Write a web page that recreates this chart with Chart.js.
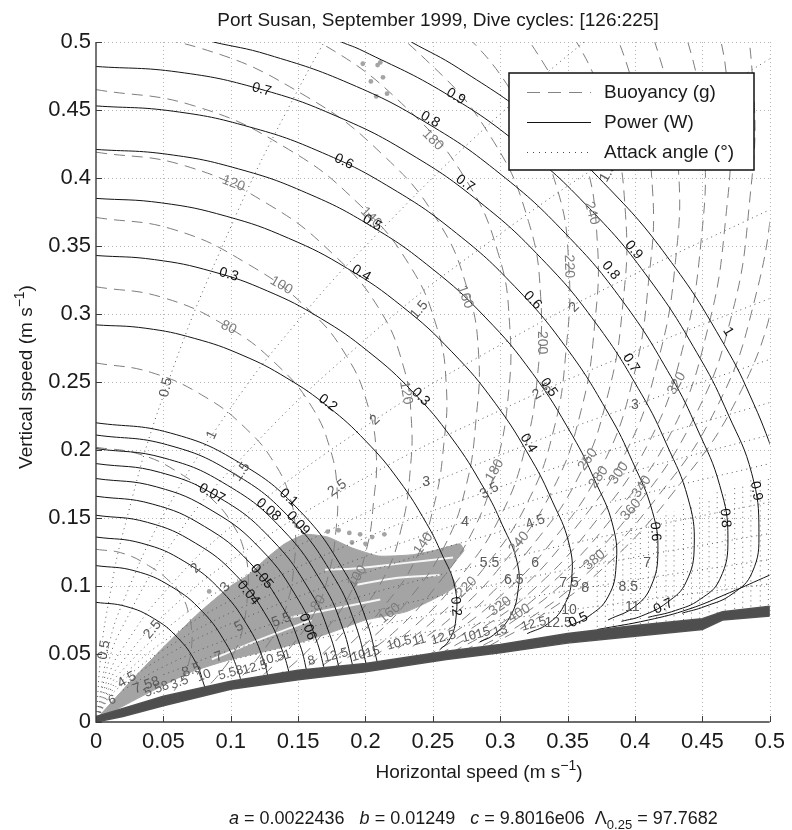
<!DOCTYPE html>
<html><head><meta charset="utf-8">
<script src="https://cdn.jsdelivr.net/npm/chart.js@4/dist/chart.umd.min.js"></script>
<style>html,body{margin:0;padding:0;background:#fff}canvas{display:block}</style>
</head><body>
<canvas id="c" width="792" height="830" style="width:792px;height:830px"></canvas>
<script>
// ---------------- axis ticks ----------------
const X_TICKS = [0,0.05,0.1,0.15,0.2,0.25,0.3,0.35,0.4,0.45,0.5];
const Y_TICKS = [0,0.05,0.1,0.15,0.2,0.25,0.3,0.35,0.4,0.45,0.5];

// ---------------- Power contours (W), solid ----------------
const POW_001 = [[0,0.088],[0.0221,0.085],[0.0427,0.0762],[0.0604,0.0622],[0.0739,0.044],[0.081,0.025]];
const POW_002 = [[0,0.115],[0.0289,0.1111],[0.0558,0.0996],[0.0789,0.0813],[0.0966,0.0575],[0.1048,0.0393],[0.108,0.029]];
const POW_003 = [[0,0.136],[0.0341,0.1314],[0.066,0.1178],[0.0933,0.0962],[0.1142,0.068],[0.124,0.0465],[0.128,0.032]];
const POW_004 = [[0,0.152],[0.0382,0.1468],[0.0737,0.1316],[0.1043,0.1075],[0.1277,0.076],[0.1385,0.052],[0.144,0.034]];
const POW_005 = [[0,0.166],[0.0417,0.1603],[0.0805,0.1438],[0.1139,0.1174],[0.1394,0.083],[0.1513,0.0568],[0.157,0.035]];
const POW_006 = [[0,0.179],[0.0449,0.1729],[0.0868,0.155],[0.1228,0.1266],[0.1504,0.0895],[0.1632,0.0612],[0.17,0.037]];
const POW_007 = [[0,0.19],[0.0477,0.1835],[0.0922,0.1645],[0.1303,0.1343],[0.1596,0.095],[0.1732,0.065],[0.181,0.038]];
const POW_008 = [[0,0.201],[0.0505,0.1941],[0.0975,0.1741],[0.1379,0.1421],[0.1688,0.1005],[0.1832,0.0687],[0.191,0.0395]];
const POW_009 = [[0,0.211],[0.053,0.2038],[0.1023,0.1827],[0.1447,0.1492],[0.1772,0.1055],[0.1923,0.0722],[0.201,0.041]];
const POW_010 = [[0,0.22],[0.0552,0.2125],[0.1067,0.1905],[0.1509,0.1556],[0.1848,0.11],[0.2005,0.0752],[0.209,0.043]];
const POW_020 = [[0,0.292],[0.037,0.2895],[0.0733,0.282],[0.1084,0.2698],[0.1416,0.2529],[0.1724,0.2317],[0.2003,0.2065],[0.2247,0.1778],[0.2453,0.146],[0.2567,0.1234],[0.2662,0.0999],[0.267,0.075],[0.262,0.06],[0.255,0.053]];
const POW_030 = [[0,0.343],[0.0434,0.34],[0.0861,0.3313],[0.1273,0.3169],[0.1664,0.297],[0.2025,0.2721],[0.2353,0.2425],[0.264,0.2088],[0.2881,0.1715],[0.3015,0.145],[0.3126,0.1173],[0.313,0.095],[0.307,0.077],[0.295,0.064],[0.285,0.059]];
const POW_040 = [[0,0.385],[0.0487,0.3817],[0.0966,0.3719],[0.1429,0.3557],[0.1867,0.3334],[0.2273,0.3055],[0.2641,0.2722],[0.2963,0.2344],[0.3234,0.1925],[0.3385,0.1627],[0.3509,0.1317],[0.353,0.105],[0.347,0.085],[0.335,0.072],[0.32,0.065]];
const POW_050 = [[0,0.421],[0.0533,0.4174],[0.1057,0.4067],[0.1563,0.389],[0.2042,0.3646],[0.2486,0.334],[0.2888,0.2977],[0.324,0.2563],[0.3536,0.2105],[0.3701,0.1779],[0.3837,0.144],[0.386,0.115],[0.38,0.092],[0.366,0.078],[0.35,0.07]];
const POW_060 = [[0,0.453],[0.0573,0.4491],[0.1137,0.4376],[0.1682,0.4185],[0.2197,0.3923],[0.2675,0.3594],[0.3107,0.3203],[0.3486,0.2758],[0.3805,0.2265],[0.3982,0.1914],[0.4129,0.1549],[0.417,0.125],[0.412,0.1],[0.4,0.085],[0.38,0.075]];
const POW_070 = [[0,0.482],[0.061,0.4779],[0.121,0.4656],[0.1789,0.4453],[0.2338,0.4174],[0.2846,0.3824],[0.3306,0.3408],[0.3709,0.2934],[0.4049,0.241],[0.4237,0.2037],[0.4393,0.1648],[0.444,0.13],[0.438,0.103],[0.424,0.088],[0.405,0.078],[0.39,0.074]];
const POW_080 = [[0.087,0.5],[0.1275,0.4907],[0.1886,0.4693],[0.2464,0.4399],[0.30,0.403],[0.3484,0.3592],[0.391,0.3093],[0.4267,0.254],[0.4466,0.2147],[0.463,0.1737],[0.469,0.135],[0.463,0.105],[0.448,0.09],[0.43,0.082],[0.41,0.077]];
const POW_090 = [[0.182,0.5],[0.1982,0.4934],[0.259,0.4624],[0.3153,0.4237],[0.3663,0.3776],[0.411,0.3251],[0.4486,0.267],[0.4694,0.2257],[0.4867,0.1826],[0.492,0.14],[0.487,0.11],[0.472,0.094],[0.452,0.085],[0.435,0.08]];
const POW_100 = [[0.234,0.5],[0.2692,0.4806],[0.3277,0.4403],[0.3807,0.3924],[0.4271,0.3379],[0.4662,0.2775],[0.4879,0.2345],[0.5059,0.1898]];
const POW_100_LOW = [[0.5,0.108],[0.47,0.095],[0.44,0.083],[0.41,0.075],[0.372,0.068]];

// ---------------- Buoyancy contours (g), dashed ----------------
const BUO_020 = [[0,0.127],[0.02,0.124],[0.039,0.115],[0.054,0.104],[0.064,0.092],[0.069,0.079],[0.071,0.067],[0.071,0.056],[0.069,0.044],[0.065,0.033],[0.058,0.023]];
const BUO_040 = [[0,0.202],[0.032,0.197],[0.062,0.183],[0.085,0.165],[0.101,0.146],[0.11,0.126],[0.113,0.107],[0.112,0.088],[0.109,0.069],[0.103,0.052],[0.092,0.036],[0.081,0.024]];
const BUO_060 = [[0,0.264],[0.041,0.257],[0.081,0.239],[0.111,0.216],[0.132,0.191],[0.144,0.165],[0.148,0.14],[0.147,0.116],[0.143,0.091],[0.134,0.068],[0.12,0.047],[0.106,0.031]];
const BUO_080 = [[0,0.32],[0.05,0.312],[0.0985,0.29],[0.135,0.262],[0.16,0.232],[0.174,0.2],[0.179,0.17],[0.178,0.14],[0.173,0.11],[0.163,0.082],[0.146,0.057],[0.128,0.038],[0.12,0.032]];
const BUO_100 = [[0,0.371],[0.058,0.362],[0.114,0.336],[0.157,0.304],[0.186,0.269],[0.202,0.232],[0.208,0.197],[0.206,0.162],[0.201,0.128],[0.189,0.095],[0.169,0.066],[0.148,0.044],[0.13,0.031]];
const BUO_120 = [[0,0.419],[0.066,0.409],[0.129,0.38],[0.177,0.343],[0.21,0.304],[0.228,0.262],[0.234,0.223],[0.233,0.183],[0.227,0.144],[0.214,0.107],[0.191,0.075],[0.168,0.05],[0.147,0.034]];
const BUO_140 = [[0,0.465],[0.073,0.453],[0.143,0.421],[0.196,0.38],[0.232,0.337],[0.253,0.29],[0.26,0.247],[0.258,0.203],[0.251,0.16],[0.237,0.119],[0.212,0.083],[0.186,0.055],[0.163,0.038]];
const BUO_160 = [[0,0.508],[0.079,0.495],[0.156,0.46],[0.214,0.416],[0.254,0.368],[0.276,0.317],[0.284,0.27],[0.282,0.222],[0.275,0.175],[0.259,0.13],[0.232,0.09],[0.203,0.06],[0.178,0.041]];
const BUO_180 = [[0.086,0.536],[0.169,0.498],[0.232,0.45],[0.275,0.398],[0.299,0.343],[0.307,0.292],[0.306,0.24],[0.297,0.189],[0.28,0.141],[0.251,0.098],[0.22,0.065],[0.192,0.045]];
const BUO_200 = [[0.092,0.575],[0.181,0.534],[0.249,0.483],[0.295,0.427],[0.321,0.368],[0.33,0.313],[0.328,0.258],[0.319,0.203],[0.3,0.151],[0.269,0.105],[0.236,0.07],[0.206,0.048]];
const BUO_220 = [[0.193,0.569],[0.265,0.514],[0.314,0.455],[0.342,0.393],[0.351,0.334],[0.349,0.275],[0.34,0.216],[0.32,0.161],[0.287,0.112],[0.251,0.075],[0.22,0.051]];
const BUO_240 = [[0.205,0.603],[0.281,0.545],[0.333,0.483],[0.362,0.416],[0.372,0.354],[0.37,0.291],[0.36,0.229],[0.339,0.171],[0.304,0.119],[0.266,0.079],[0.233,0.054]];
const BUO_260 = [[0.296,0.575],[0.351,0.509],[0.382,0.439],[0.393,0.373],[0.391,0.307],[0.38,0.241],[0.358,0.18],[0.32,0.125],[0.281,0.083],[0.246,0.057]];
const BUO_280 = [[0.311,0.604],[0.369,0.535],[0.401,0.461],[0.413,0.392],[0.41,0.323],[0.399,0.254],[0.376,0.189],[0.337,0.131],[0.295,0.088],[0.258,0.06]];
const BUO_300 = [[0.326,0.632],[0.386,0.56],[0.42,0.483],[0.432,0.41],[0.43,0.338],[0.417,0.265],[0.393,0.198],[0.352,0.138],[0.309,0.092],[0.27,0.063],[0.241,0.046]];
const BUO_320 = [[0.403,0.585],[0.438,0.504],[0.451,0.428],[0.449,0.353],[0.436,0.277],[0.411,0.207],[0.368,0.144],[0.323,0.096],[0.282,0.066],[0.252,0.048]];
const BUO_340 = [[0.42,0.609],[0.457,0.525],[0.47,0.446],[0.467,0.367],[0.454,0.289],[0.428,0.215],[0.383,0.15],[0.336,0.1],[0.294,0.068],[0.262,0.05]];
const BUO_360 = [[0.436,0.632],[0.474,0.545],[0.488,0.463],[0.485,0.382],[0.472,0.3],[0.444,0.224],[0.398,0.155],[0.349,0.104],[0.305,0.071],[0.273,0.052]];
const BUO_380 = [[0.492,0.565],[0.506,0.48],[0.503,0.396],[0.489,0.311],[0.461,0.232],[0.413,0.161],[0.362,0.107],[0.317,0.073],[0.283,0.054]];
const BUO_400 = [[0.509,0.585],[0.523,0.497],[0.52,0.409],[0.506,0.322],[0.477,0.24],[0.427,0.167],[0.374,0.111],[0.327,0.076],[0.292,0.056]];

// ---------------- Attack angle contours (deg), dotted ----------------
const ATT_05 = [[0,0],[0.004,0.053],[0.01,0.0915],[0.02,0.139],[0.05,0.24],[0.1,0.364],[0.15,0.465],[0.2,0.552]];
const ATT_10 = [[0,0],[0.01,0.058],[0.02,0.088],[0.05,0.152],[0.1,0.231],[0.15,0.295],[0.2,0.35],[0.3,0.447],[0.4,0.531]];
const ATT_15 = [[0,0],[0.01,0.0466],[0.02,0.0706],[0.05,0.1225],[0.1,0.1856],[0.2,0.2813],[0.3,0.3589],[0.4,0.4265],[0.5,0.4876]];
const ATT_20 = [[0,0],[0.01,0.036],[0.02,0.0546],[0.05,0.0946],[0.1,0.1434],[0.2,0.2174],[0.3,0.2773],[0.4,0.3295],[0.5,0.3767]];
const ATT_25 = [[0,0],[0.01,0.0298],[0.02,0.0451],[0.05,0.0782],[0.1,0.1186],[0.2,0.1797],[0.3,0.2292],[0.4,0.2724],[0.5,0.3114]];
const ATT_30 = [[0,0],[0.01,0.0255],[0.02,0.0386],[0.05,0.0669],[0.1,0.1015],[0.2,0.1538],[0.3,0.1962],[0.4,0.2331],[0.5,0.2666]];
const ATT_35 = [[0,0],[0.01,0.0225],[0.02,0.034],[0.05,0.059],[0.1,0.0894],[0.2,0.1355],[0.3,0.1729],[0.4,0.2054],[0.5,0.2349]];
const ATT_40 = [[0,0],[0.01,0.0202],[0.02,0.0306],[0.05,0.053],[0.1,0.0804],[0.2,0.1218],[0.3,0.1554],[0.4,0.1847],[0.5,0.2111]];
const ATT_45 = [[0,0],[0.01,0.0182],[0.02,0.0275],[0.05,0.0477],[0.1,0.0723],[0.2,0.1096],[0.3,0.1399],[0.4,0.1662],[0.5,0.19]];
const ATT_55 = [[0.02,0.0234],[0.05,0.0406],[0.1,0.0615],[0.2,0.0933],[0.3,0.119],[0.4,0.1414],[0.5,0.1617]];
const ATT_65 = [[0.05,0.0348],[0.1,0.0528],[0.2,0.08],[0.3,0.102],[0.4,0.1212],[0.5,0.1386]];
const ATT_80 = [[0.1,0.0455],[0.2,0.0689],[0.3,0.0879],[0.4,0.1045],[0.5,0.1194]];
const ATT_100 = [[0.2,0.0586],[0.3,0.0748],[0.4,0.0889],[0.5,0.1016]];
// near-vertical high-angle contour pile-up (x position, bottom, top)
const STEEP_DOT_X = [0.372,0.378,0.384,0.391,0.397,0.404,0.41,0.416,0.423,0.429,0.436,0.442,0.448,0.455,0.461,0.467,0.474,0.48,0.486,0.493,0.499];
const STEEP_DOT_BOTTOM = [0.07,0.07,0.071,0.071,0.072,0.072,0.073,0.073,0.074,0.074,0.075,0.076,0.076,0.077,0.08,0.082,0.083,0.084,0.085,0.085,0.086];
const STEEP_DOT_TOP = [0.13,0.135,0.14,0.14,0.145,0.145,0.15,0.15,0.155,0.155,0.16,0.16,0.165,0.165,0.17,0.17,0.175,0.175,0.18,0.18,0.18];

// ---------------- Observed dive data ----------------
const CLOUD_OUTLINE = [[0.002,0.004],[0.023,0.027],[0.05,0.055],[0.076,0.08],[0.1,0.1],[0.113,0.108],[0.126,0.12],[0.14,0.131],[0.155,0.138],[0.172,0.136],[0.19,0.128],[0.21,0.122],[0.235,0.123],[0.255,0.127],[0.27,0.131],[0.273,0.126],[0.262,0.112],[0.267,0.1],[0.25,0.09],[0.23,0.081],[0.2,0.075],[0.175,0.066],[0.15,0.058],[0.126,0.052],[0.1,0.046],[0.071,0.037],[0.04,0.022],[0.013,0.008]];
const CLOUD_GAP_A = [[0.086,0.046],[0.12,0.06],[0.16,0.075]];
const CLOUD_GAP_B = [[0.145,0.077],[0.18,0.084],[0.211,0.09]];
const CLOUD_GAP_C = [[0.17,0.112],[0.194,0.113],[0.23,0.117],[0.265,0.121]];
const CLOUD_GAP_D = [[0.194,0.101],[0.224,0.106],[0.255,0.108]];
const STRAY_POINTS = [[0.198,0.484],[0.209,0.483],[0.211,0.485],[0.204,0.471],[0.213,0.474],[0.208,0.46],[0.216,0.462],[0.084,0.096],[0.172,0.14],[0.18,0.141],[0.188,0.139],[0.196,0.138],[0.205,0.136],[0.214,0.138],[0.19,0.132],[0.2,0.131]];
const BAND_UPPER = [[0,0.004],[0.02,0.01],[0.05,0.019],[0.1,0.03],[0.15,0.038],[0.2,0.043],[0.26,0.052],[0.3,0.057],[0.35,0.065],[0.4,0.071],[0.45,0.076],[0.465,0.081],[0.5,0.085]];
const BAND_LOWER = [[0.5,0.078],[0.465,0.075],[0.45,0.068],[0.4,0.063],[0.35,0.058],[0.3,0.051],[0.26,0.046],[0.2,0.037],[0.15,0.031],[0.1,0.024],[0.05,0.012],[0.02,0.004],[0,0]];

// ---------------- Contour labels [text, x, y, rotation deg] ----------------
const POWER_LABELS = [['0.7',0.123,0.465,15],['0.6',0.184,0.412,25],['0.5',0.205,0.367,30],['0.4',0.197,0.33,31],['0.3',0.0985,0.329,17],['0.2',0.172,0.2346,37],['0.1',0.143,0.165,42],['0.09',0.15,0.146,47],['0.08',0.128,0.156,40],['0.07',0.086,0.168,28],['0.06',0.157,0.07,70],['0.05',0.123,0.107,50],['0.04',0.113,0.095,51],['0.9',0.267,0.46,31],['0.8',0.248,0.443,30],['0.7',0.274,0.396,35],['0.9',0.399,0.347,50],['0.8',0.382,0.332,50],['0.6',0.324,0.31,46],['0.7',0.397,0.264,57],['0.5',0.336,0.246,55],['0.4',0.321,0.205,58],['0.3',0.241,0.239,45],['1',0.469,0.287,59],['0.9',0.49,0.17,80],['0.8',0.467,0.15,85],['0.6',0.415,0.14,85],['0.2',0.267,0.085,85],['0.5',0.358,0.075,-25],['0.7',0.421,0.085,-25]];
const BUOY_LABELS = [['80',0.0985,0.29,25],['100',0.1375,0.321,30],['120',0.102,0.396,20],['140',0.204,0.371,45],['160',0.274,0.3125,70],['180',0.25,0.428,45],['200',0.331,0.279,90],['220',0.351,0.335,88],['240',0.368,0.374,75],['120',0.23,0.242,80],['80',0.165,0.0875,-55],['100',0.194,0.107,-55],['140',0.243,0.131,-55],['160',0.218,0.08,-40],['180',0.296,0.185,-60],['220',0.275,0.099,-45],['240',0.314,0.132,-50],['260',0.365,0.193,-55],['280',0.373,0.18,-55],['300',0.388,0.183,-55],['320',0.431,0.249,-60],['320',0.3,0.085,-35],['340',0.405,0.173,-55],['360',0.397,0.156,-50],['380',0.37,0.119,-40],['400',0.314,0.08,-30]];
const ATTACK_LABELS = [['0.5',0.052,0.246,-78],['1',0.086,0.211,-65],['1.5',0.108,0.184,-55],['2',0.207,0.222,-45],['2.5',0.179,0.172,-35],['3',0.245,0.176,0],['3.5',0.292,0.17,-30],['4',0.274,0.147,0],['4.5',0.326,0.147,-20],['1.5',0.24,0.303,-50],['2',0.355,0.305,-45],['2.5',0.331,0.243,-30],['3',0.4,0.233,0],['1.5',0.38,0.404,-60],['5.5',0.292,0.117,0],['6',0.326,0.117,0],['6.5',0.31,0.104,0],['7.5',0.351,0.102,0],['8',0.363,0.0985,0],['8.5',0.395,0.099,0],['7',0.409,0.117,0],['10',0.351,0.082,0],['11',0.398,0.0846,0],['12.5',0.343,0.073,0],['0.5',0.006,0.053,-80],['2.5',0.042,0.068,-50],['3',0.096,0.099,-45],['2',0.074,0.113,-45],['5',0.106,0.07,-30],['5.5',0.1375,0.075,-20],['7',0.091,0.048,-20],['8.5',0.071,0.038,-20],['4.5',0.023,0.031,-30],['7.58',0.0375,0.027,-20]];
const CROWDED_LABELS = [['6',0.012,0.016,-20],['5.58',0.045,0.024,-20],['3.5',0.062,0.029,-20],['10',0.08,0.034,-20],['5.58',0.1,0.036,-15],['12.5',0.118,0.04,-15],['10.51',0.133,0.047,-15],['8',0.16,0.045,-15],['12.5',0.178,0.049,-15],['1015',0.2,0.05,-15],['10.5',0.225,0.058,-15],['11',0.24,0.06,-15],['12.5',0.258,0.062,-15],['1015',0.282,0.064,-15],['13',0.3,0.067,-15],['12.5',0.325,0.072,-15]];

// ---------------- build datasets ----------------
const POWER_CURVES = [POW_001,POW_002,POW_003,POW_004,POW_005,POW_006,POW_007,POW_008,POW_009,POW_010,POW_020,POW_030,POW_040,POW_050,POW_060,POW_070,POW_080,POW_090,POW_100,POW_100_LOW];
const BUOY_CURVES = [BUO_020,BUO_040,BUO_060,BUO_080,BUO_100,BUO_120,BUO_140,BUO_160,BUO_180,BUO_200,BUO_220,BUO_240,BUO_260,BUO_280,BUO_300,BUO_320,BUO_340,BUO_360,BUO_380,BUO_400];
const ATTACK_CURVES = [ATT_05,ATT_10,ATT_15,ATT_20,ATT_25,ATT_30,ATT_35,ATT_40,ATT_45,ATT_55,ATT_65,ATT_80,ATT_100];

const datasets = [];
function addCurve(pts, opts){
  datasets.push(Object.assign({data: pts.map(p => ({x:p[0], y:p[1]})), pointRadius:0, borderWidth:1, fill:false, tension:0.45}, opts));
}
addCurve(CLOUD_OUTLINE, {borderColor:'#a4a4a4', backgroundColor:'#a4a4a4', fill:'shape', tension:0.15, order:9});
[CLOUD_GAP_A,CLOUD_GAP_B,CLOUD_GAP_C,CLOUD_GAP_D].forEach(g => addCurve(g, {borderColor:'#f6f6f6', borderWidth:2, order:8}));
addCurve(STRAY_POINTS, {showLine:false, pointRadius:2.4, pointBackgroundColor:'#a4a4a4', pointBorderWidth:0, order:8});
ATTACK_CURVES.forEach(c => addCurve(c, {borderColor:'#5a5a5a', borderDash:[1,4], order:7}));
STEEP_DOT_X.forEach((vx, i) => addCurve([[vx, STEEP_DOT_BOTTOM[i]], [vx, STEEP_DOT_TOP[i]]], {borderColor:'#6a6a6a', borderDash:[1,4], tension:0, order:7}));
BUOY_CURVES.forEach(c => addCurve(c, {borderColor:'#7e7e7e', borderDash:[11,7], order:6}));
POWER_CURVES.forEach(c => addCurve(c, {borderColor:'#141414', order:5}));
addCurve(BAND_UPPER.concat(BAND_LOWER), {borderColor:'#525252', backgroundColor:'#4e4e4e', fill:'shape', tension:0, borderWidth:1.5, order:1});

const FONT = '"Liberation Sans", Arial, Helvetica, sans-serif';

function drawLabelSet(chart, list, color, size){
  const {ctx, scales:{x, y}} = chart;
  ctx.save();
  ctx.beginPath(); ctx.rect(chart.chartArea.left, chart.chartArea.top, chart.chartArea.right-chart.chartArea.left, chart.chartArea.bottom-chart.chartArea.top); ctx.clip();
  ctx.font = (size || 14) + 'px ' + FONT; ctx.textAlign = 'center'; ctx.textBaseline = 'middle';
  list.forEach(([t, vx, vy, rot]) => {
    ctx.save();
    ctx.translate(x.getPixelForValue(vx), y.getPixelForValue(vy));
    ctx.rotate(rot * Math.PI / 180);
    ctx.fillStyle = color; ctx.fillText(t, 0, 0);
    ctx.restore();
  });
  ctx.restore();
}

function fontFor(s, size){
  if (s === 'i') return 'italic ' + size + 'px ' + FONT;
  if (s === 'sup' || s === 'sub') return Math.round(size*0.72) + 'px ' + FONT;
  return size + 'px ' + FONT;
}
function drawRich(ctx, parts, x, y, align, size){
  const w = parts.map(([t, s]) => { ctx.font = fontFor(s, size); return ctx.measureText(t).width; });
  const total = w.reduce((a,b)=>a+b, 0);
  let cx = align === 'center' ? x - total/2 : x;
  parts.forEach(([t, s], i) => {
    ctx.font = fontFor(s, size);
    let dy = 0;
    if (s === 'sup') dy = -size*0.42;
    if (s === 'sub') dy = size*0.28;
    ctx.fillText(t, cx, y + dy);
    cx += w[i];
  });
}

const decor = {
  id: 'decor',
  beforeDatasetsDraw(chart){
    const {ctx, chartArea:a, scales:{x, y}} = chart;
    ctx.save();
    ctx.strokeStyle = '#b4b4b4'; ctx.lineWidth = 1; ctx.setLineDash([1,3]);
    X_TICKS.forEach(v => { if (v === 0) return; const px = Math.round(x.getPixelForValue(v)) + 0.5; ctx.beginPath(); ctx.moveTo(px, a.top); ctx.lineTo(px, a.bottom); ctx.stroke(); });
    Y_TICKS.forEach(v => { if (v === 0) return; const py = Math.round(y.getPixelForValue(v)) + 0.5; ctx.beginPath(); ctx.moveTo(a.left, py); ctx.lineTo(a.right, py); ctx.stroke(); });
    ctx.restore();
  },
  afterDatasetsDraw(chart){
    drawLabelSet(chart, CROWDED_LABELS, '#5c5c5c', 13);
    drawLabelSet(chart, BUOY_LABELS, '#7c7c7c');
    drawLabelSet(chart, ATTACK_LABELS, '#5a5a5a');
    drawLabelSet(chart, POWER_LABELS, '#111111');
    const {ctx, chartArea:a, scales:{x, y}} = chart;
    ctx.save();
    ctx.strokeStyle = '#3c3c3c'; ctx.lineWidth = 1.4; ctx.setLineDash([]);
    ctx.beginPath(); ctx.moveTo(a.left, a.top); ctx.lineTo(a.left, a.bottom); ctx.lineTo(a.right, a.bottom); ctx.stroke();
    ctx.lineWidth = 1;
    X_TICKS.forEach(v => { const px = Math.round(x.getPixelForValue(v)) + 0.5; ctx.beginPath(); ctx.moveTo(px, a.bottom); ctx.lineTo(px, a.bottom - 6); ctx.stroke(); });
    Y_TICKS.forEach(v => { const py = Math.round(y.getPixelForValue(v)) + 0.5; ctx.beginPath(); ctx.moveTo(a.left, py); ctx.lineTo(a.left + 6, py); ctx.stroke(); });
    ctx.restore();
  },
  afterDraw(chart){
    const {ctx} = chart;
    ctx.save();
    ctx.fillStyle = '#1a1a1a'; ctx.textBaseline = 'alphabetic'; ctx.textAlign = 'left';
    ctx.font = '19px ' + FONT; ctx.textAlign = 'center';
    ctx.fillText('Port Susan, September 1999, Dive cycles: [126:225]', 438, 26);
    ctx.textAlign = 'left';
    drawRich(ctx, [['Horizontal speed (m s','n'],['\u22121','sup'],[')','n']], 479, 778, 'center', 19);
    ctx.save(); ctx.translate(32, 377); ctx.rotate(-Math.PI/2);
    drawRich(ctx, [['Vertical speed (m s','n'],['\u22121','sup'],[')','n']], 0, 0, 'center', 19);
    ctx.restore();
    drawRich(ctx, [['a','i'],[' = 0.0022436   ','n'],['b','i'],[' = 0.01249   ','n'],['c','i'],[' = 9.8016e06  ','n'],['\u039B','n'],['0.25','sub'],[' = 97.7682','n']], 229, 824, 'left', 18);
    const L = {x:509, y:73, w:245, h:97};
    ctx.fillStyle = '#ffffff'; ctx.fillRect(L.x, L.y, L.w, L.h);
    ctx.strokeStyle = '#111'; ctx.lineWidth = 1.5; ctx.strokeRect(L.x, L.y, L.w, L.h);
    const rows = [['Buoyancy (g)', [13,8], '#838383'], ['Power (W)', [], '#141414'], ['Attack angle (\u00B0)', [1,5], '#4a4a4a']];
    rows.forEach(([t, dash, col], i) => {
      const yy = L.y + 19 + i*30;
      ctx.strokeStyle = col; ctx.lineWidth = 1; ctx.setLineDash(dash);
      ctx.beginPath(); ctx.moveTo(527, yy + 0.5); ctx.lineTo(591, yy + 0.5); ctx.stroke();
      ctx.setLineDash([]);
      ctx.fillStyle = '#1a1a1a'; ctx.font = '19px ' + FONT; ctx.textBaseline = 'middle';
      ctx.fillText(t, 604, yy + 1);
    });
    ctx.restore();
  }
};

new Chart(document.getElementById('c'), {
  type: 'line',
  data: { datasets },
  options: {
    responsive: false, animation: false, devicePixelRatio: 1,
    events: [],
    layout: { padding: { left: 0, right: 16, top: 42, bottom: 0 } },
    plugins: { legend: { display: false }, tooltip: { enabled: false }, title: { display: false } },
    scales: {
      x: { type: 'linear', min: 0, max: 0.5,
        afterFit(s){ s.height = 108; },
        afterBuildTicks(s){ s.ticks = X_TICKS.map(v => ({value: v})); },
        grid: { display: false, drawTicks: false }, border: { display: false },
        ticks: { autoSkip: false, maxRotation: 0, padding: 7, color: '#1a1a1a', font: { size: 22, family: FONT }, callback: v => String(+v.toFixed(2)) } },
      y: { type: 'linear', min: 0, max: 0.5,
        afterFit(s){ s.width = 96; },
        afterBuildTicks(s){ s.ticks = Y_TICKS.map(v => ({value: v})); },
        grid: { display: false, drawTicks: false }, border: { display: false },
        ticks: { autoSkip: false, padding: 5, color: '#1a1a1a', font: { size: 22, family: FONT }, callback: v => String(+v.toFixed(2)) } }
    }
  },
  plugins: [decor]
});
</script>
</body></html>
